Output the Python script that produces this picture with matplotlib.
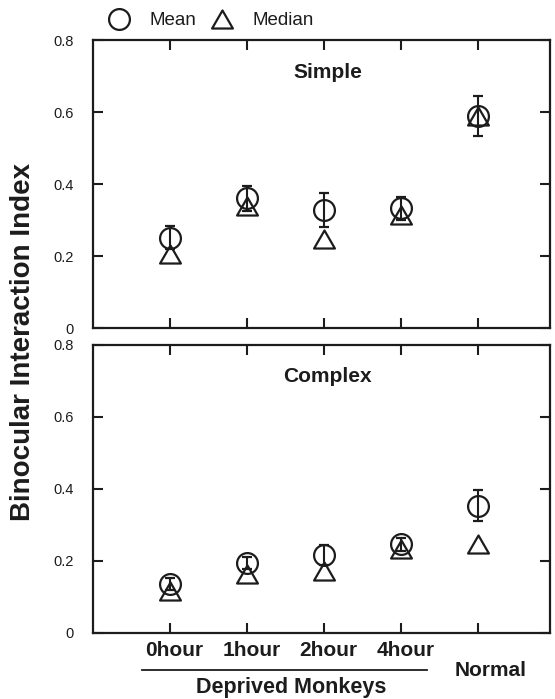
import matplotlib
matplotlib.use("Agg")
import matplotlib.pyplot as plt
from matplotlib.lines import Line2D
from matplotlib.path import Path
import matplotlib.transforms as mtransforms

plt.rcParams['font.family'] = ['Liberation Sans', 'DejaVu Sans']

# ---- data ----
categories = ["0hour", "1hour", "2hour", "4hour", "Normal"]
group_label = "Deprived Monkeys"
panels = ["Simple", "Complex"]

simple_mean = [0.251, 0.360, 0.327, 0.333, 0.589]
simple_err = [0.032, 0.035, 0.047, 0.032, 0.055]
simple_median = [0.205, 0.340, 0.247, 0.315, 0.590]

complex_mean = [0.135, 0.193, 0.216, 0.245, 0.353]
complex_err = [0.016, 0.016, 0.028, 0.017, 0.042]
complex_median = [0.116, 0.163, 0.171, 0.232, 0.247]

yticks = [0, 0.2, 0.4, 0.6, 0.8]
ytick_labels = ["0", "0.2", "0.4", "0.6", "0.8"]
ylabel = "Binocular Interaction Index"
legend_labels = ["Mean", "Median"]

# ---- style ----
K = "#1c1c1c"
tri = Path([(-1, -0.866), (1, -0.866), (0, 0.866), (-1, -0.866)],
           [Path.MOVETO, Path.LINETO, Path.LINETO, Path.CLOSEPOLY])

W, H = 555, 699
fig = plt.figure(figsize=(W / 100, H / 100), dpi=100)

ax_top = fig.add_axes([93 / W, 1 - 328 / H, 457 / W, 288 / H])
ax_bot = fig.add_axes([93 / W, 1 - 632.7 / H, 457 / W, 288.2 / H])

x = list(range(1, len(categories) + 1))

for ax, title, mean, err, med in [
    (ax_top, panels[0], simple_mean, simple_err, simple_median),
    (ax_bot, panels[1], complex_mean, complex_err, complex_median),
]:
    ax.errorbar(x, mean, yerr=err, fmt='o', ms=15, mfc='none', mec=K, mew=1.6,
                ecolor=K, elinewidth=1.5, capsize=3.6, capthick=1.5, zorder=3)
    ax.plot(x, med, linestyle='none', marker=tri, ms=15, mfc='none', mec=K,
            mew=1.6, zorder=4)
    ax.set_xlim(0, 5.935)
    ax.set_ylim(0, 0.8)
    ax.set_yticks(yticks)
    ax.set_yticklabels(ytick_labels)
    ax.set_xticks(x)
    ax.set_xticklabels([])
    ax.tick_params(axis='both', direction='in', length=7.5, width=1.5,
                   color=K, top=True, right=True, labelsize=10.5,
                   labelcolor=K)
    ax.tick_params(axis='y', pad=14)
    for s in ax.spines.values():
        s.set_linewidth(1.6)
        s.set_color(K)
    ax.text(3.05, 0.711, title, ha='center', va='center', fontsize=15,
            fontweight='bold', color=K)

# category labels below bottom panel
trans = mtransforms.blended_transform_factory(ax_bot.transData, fig.transFigure)
for xi, lab in zip(x[:4], categories[:4]):
    ax_bot.text(xi + 0.06, 1 - 650.5 / H, lab, transform=trans, ha='center',
                va='center', fontsize=15, fontweight='bold', color=K)
ax_bot.text(x[4] + 0.17, 1 - 670 / H, categories[4], transform=trans,
            ha='center', va='center', fontsize=15, fontweight='bold', color=K)
fig.add_artist(Line2D([141.7 / W, 426.7 / W], [1 - 669.5 / H, 1 - 669.5 / H],
                      color=K, lw=1.3, transform=fig.transFigure))
fig.text(290.7 / W, 1 - 688 / H, group_label, ha='center', va='center',
         fontsize=15.5, fontweight='bold', color=K)

# y label
fig.text(23 / W, 1 - 342 / H, ylabel, rotation=90, ha='center', va='center',
         fontsize=20, fontweight='bold', color=K)

# legend
handles = [
    Line2D([], [], linestyle='none', marker='o', ms=15, mfc='none', mec=K, mew=1.6),
    Line2D([], [], linestyle='none', marker=tri, ms=15, mfc='none', mec=K, mew=1.6),
]
fig.legend(handles, legend_labels, loc='center left',
           bbox_to_anchor=(109.6 / W, 1 - 20.5 / H), ncol=2, frameon=False,
           fontsize=13.5, handlelength=1.0, handletextpad=1.15,
           columnspacing=0.83, borderpad=0, borderaxespad=0, labelcolor=K)

fig.savefig("out.png", dpi=100)
